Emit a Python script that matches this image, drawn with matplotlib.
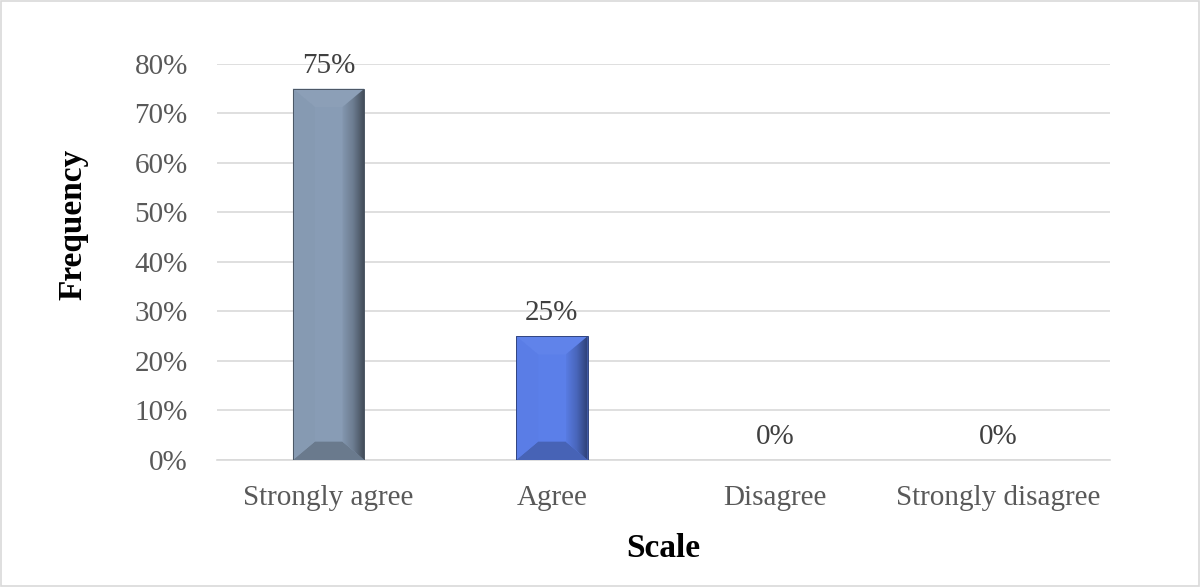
import matplotlib.pyplot as plt
from matplotlib.patches import Polygon, Rectangle
import matplotlib.colors as mcolors
import numpy as np

categories = ["Strongly agree", "Agree", "Disagree", "Strongly disagree"]
values = [0.75, 0.25, 0.0, 0.0]
labels = ["75%", "25%", "0%", "0%"]
bar_colors = ["#889CB5", "#5B7FE9", "#5B7FE9", "#5B7FE9"]
yticks = [0, 0.1, 0.2, 0.3, 0.4, 0.5, 0.6, 0.7, 0.8]

plt.rcParams['font.family'] = ['Liberation Serif', 'DejaVu Serif']

fig = plt.figure(figsize=(12.01, 5.87), dpi=100)
ax = fig.add_axes([0.1807, 0.2164, 0.7435, 0.6746])

x = np.arange(len(categories))
width = 0.32


def shade(c, f):
    rgb = np.array(mcolors.to_rgb(c))
    if f < 1:
        return tuple(rgb * f)
    return tuple(rgb + (1 - rgb) * (f - 1))


for xi, v, col in zip(x, values, bar_colors):
    if v <= 0:
        continue
    l, r = xi - width / 2, xi + width / 2
    bx = 0.098
    by = min(0.037, v / 3)
    ax.add_patch(Rectangle((l, 0), width, v, facecolor=col, edgecolor='none', zorder=3))
    # top bevel, a bit lighter
    ax.add_patch(Polygon([(l, v), (r, v), (r - bx, v - by), (l + bx, v - by)],
                         facecolor=shade(col, 1.03), edgecolor='none', zorder=4))
    # bottom bevel, darker
    ax.add_patch(Polygon([(l, 0), (r, 0), (r - bx, by), (l + bx, by)],
                         facecolor=shade(col, 0.78), edgecolor='none', zorder=4))
    # left bevel
    ax.add_patch(Polygon([(l, 0), (l, v), (l + bx, v - by), (l + bx, by)],
                         facecolor=shade(col, 0.985), edgecolor='none', zorder=4))
    # right bevel with gradient
    rpoly = Polygon([(r, 0), (r, v), (r - bx, v - by), (r - bx, by)],
                    facecolor='none', edgecolor='none', zorder=4)
    ax.add_patch(rpoly)
    cmap = mcolors.LinearSegmentedColormap.from_list(
        'g', [shade(col, 0.97), shade(col, 0.8), shade(col, 0.5)])
    grad = np.linspace(0, 1, 64).reshape(1, -1)
    im = ax.imshow(grad, cmap=cmap, extent=(r - bx, r, 0, v), aspect='auto',
                   zorder=4, interpolation='bilinear')
    im.set_clip_path(rpoly)
    ax.add_patch(Rectangle((l, 0), width, v, facecolor='none', edgecolor=shade(col, 0.55),
                           linewidth=0.7, zorder=5))

for xi, v, lab in zip(x, values, labels):
    ax.text(xi, v + 0.046, lab, ha='center', va='center', fontsize=21, color='#404040')

ax.set_xlim(-0.5, len(categories) - 0.5)
ax.set_ylim(0, 0.8)
ax.set_yticks(yticks)
ax.set_yticklabels([f"{int(round(t * 100))}%" for t in yticks])
ax.set_xticks(x)
ax.set_xticklabels(categories)
ax.tick_params(axis='both', length=0, labelsize=21, labelcolor='#595959')
ax.tick_params(axis='x', pad=18)
ax.tick_params(axis='y', pad=21)
ax.grid(axis='y', color='#D9D9D9', linewidth=1.2, zorder=0)
ax.set_axisbelow(True)
for s in ['top', 'right', 'left']:
    ax.spines[s].set_visible(False)
ax.spines['bottom'].set_color('#D9D9D9')
ax.spines['bottom'].set_linewidth(1.2)

fig.text(0.061, 0.617, "Frequency", rotation=90, ha='center', va='center',
         fontsize=24, fontweight='bold')
fig.text(0.552, 0.066, "Scale", ha='center', va='center', fontsize=24, fontweight='bold')

fig.patches.append(Rectangle((0.001, 0.001), 0.997, 0.997, transform=fig.transFigure,
                             facecolor='none', edgecolor='#D9D9D9', linewidth=1.2))

fig.savefig("out.png", dpi=100)
